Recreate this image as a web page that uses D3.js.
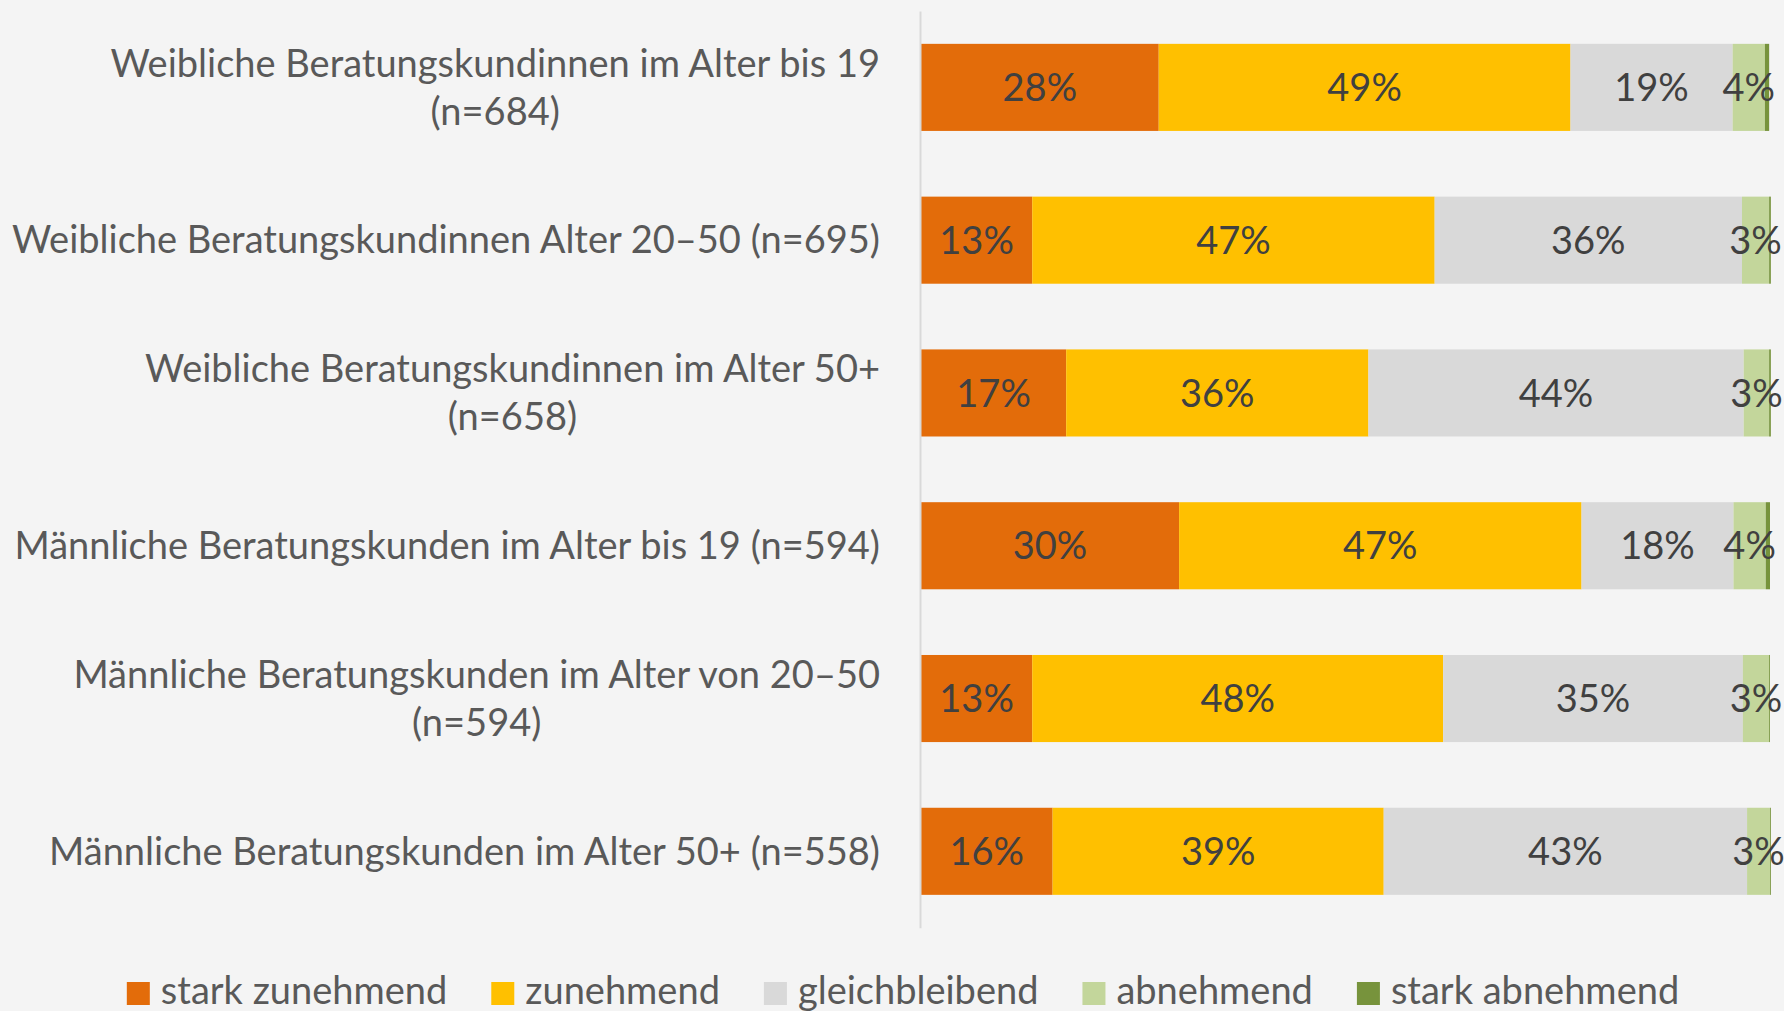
<!DOCTYPE html>
<html>
<head>
<meta charset="utf-8">
<script src="https://cdn.jsdelivr.net/npm/d3@7"></script>
<style>
  html, body { margin: 0; padding: 0; background: #f4f4f4; }
  svg { display: block; font-family: Lato, "Open Sans", sans-serif; }
</style>
</head>
<body>
<div id="chart"></div>
<script>
// categories (each label split into its lines)
const categories = [
    ["Weibliche Beratungskundinnen im Alter bis 19", "(n=684)"],
    ["Weibliche Beratungskundinnen Alter 20–50 (n=695)"],
    ["Weibliche Beratungskundinnen im Alter 50+", "(n=658)"],
    ["Männliche Beratungskunden im Alter bis 19 (n=594)"],
    ["Männliche Beratungskunden im Alter von 20–50", "(n=594)"],
    ["Männliche Beratungskunden im Alter 50+ (n=558)"]
];

const seriesNames = ["stark zunehmend", "zunehmend", "gleichbleibend", "abnehmend", "stark abnehmend"];
const seriesColors = ["#E36C0A", "#FFC000", "#D9D9D9", "#C3D69B", "#77933C"];

// shares in percent, per series, in category order
const starkZunehmend = [28.0, 13.1, 17.1, 30.4, 13.1, 15.5];
const zunehmend      = [48.5, 47.4, 35.6, 47.4, 48.4, 39.0];
const gleichbleibend = [19.1, 36.2, 44.2, 17.9, 35.3, 42.8];
const abnehmend      = [3.8, 3.2, 3.0, 3.8, 3.1, 2.7];
const starkAbnehmend = [0.5, 0.2, 0.2, 0.5, 0.1, 0.1];

const seriesValues = [starkZunehmend, zunehmend, gleichbleibend, abnehmend, starkAbnehmend];

const width = 1784, height = 1011;
const margin = { top: 11, right: 14, bottom: 84, left: 921 };
const fontSize = 38;

const svg = d3.select("#chart").append("svg")
    .attr("width", width)
    .attr("height", height);

svg.append("rect").attr("width", width).attr("height", height).attr("fill", "#f4f4f4");

// build rows for the stack
const rows = categories.map((c, i) => {
    const row = { idx: i };
    seriesNames.forEach((s, j) => row[s] = seriesValues[j][i]);
    return row;
});
const stacked = d3.stack().keys(seriesNames)(rows);

const x = d3.scaleLinear().domain([0, 100]).range([margin.left, 1770]);
const y = d3.scaleBand()
    .domain(d3.range(categories.length))
    .range([margin.top, height - margin.bottom + 0.7])
    .paddingInner(0.43)
    .paddingOuter(0.215);

// bars
const layers = svg.selectAll("g.layer").data(stacked).join("g")
    .attr("class", "layer")
    .attr("fill", (d, i) => seriesColors[i]);

layers.selectAll("rect").data(d => d).join("rect")
    .attr("x", d => x(d[0]))
    .attr("y", d => y(d.data.idx))
    .attr("width", d => x(d[1]) - x(d[0]))
    .attr("height", y.bandwidth());

// data labels (the tiny "stark abnehmend" slice gets none)
stacked.slice(0, 4).forEach(layer => {
    svg.append("g").selectAll("text").data(layer).join("text")
        .attr("x", d => (x(d[0]) + x(d[1])) / 2)
        .attr("y", d => y(d.data.idx) + y.bandwidth() / 2)
        .attr("dy", "0.36em")
        .attr("text-anchor", "middle")
        .attr("fill", "#404040")
        .style("font-size", fontSize + "px")
        .text(d => Math.round(d.data[layer.key]) + "%");
});

// vertical axis line
const axisG = svg.append("g").attr("transform", `translate(${margin.left - 1},0)`);
axisG.call(d3.axisLeft(y).tickSize(0).tickFormat(""));
axisG.select(".domain").attr("stroke", "#d9d9d9").attr("stroke-width", 2);

// category labels, right aligned, wrapped lines centred on each other
const labelRight = 880;
const lineH = 48;
categories.forEach((lines, i) => {
    const cy = y(i) + y.bandwidth() / 2;
    const g = svg.append("g");
    const first = g.append("text")
        .attr("x", labelRight)
        .attr("text-anchor", "end")
        .attr("fill", "#595959")
        .style("font-size", fontSize + "px")
        .text(lines[0]);
    const w = first.node().getComputedTextLength();
    const y0 = cy - (lines.length - 1) * lineH / 2 + fontSize * 0.35;
    first.attr("y", y0);
    lines.slice(1).forEach((t, k) => {
        g.append("text")
            .attr("x", labelRight - w / 2)
            .attr("y", y0 + (k + 1) * lineH)
            .attr("text-anchor", "middle")
            .attr("fill", "#595959")
            .style("font-size", fontSize + "px")
            .text(t);
    });
});

// legend
const legend = svg.append("g");
let lx = 0;
seriesNames.forEach((name, i) => {
    const item = legend.append("g").attr("transform", `translate(${lx},0)`);
    item.append("rect").attr("x", 0).attr("y", -22).attr("width", 23).attr("height", 23)
        .attr("fill", seriesColors[i]);
    const t = item.append("text").attr("x", 34).attr("y", 0)
        .attr("fill", "#595959")
        .style("font-size", fontSize + "px")
        .text(name);
    lx += 34 + t.node().getComputedTextLength() + 44;
});
const legendW = lx - 44;
legend.attr("transform", `translate(${903 - legendW / 2},1004)`);
</script>
</body>
</html>
